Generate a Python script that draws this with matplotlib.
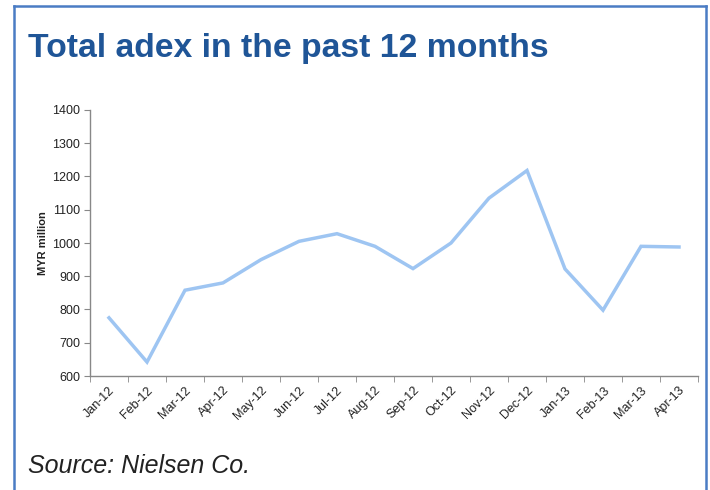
import numpy as np
import matplotlib.pyplot as plt
from matplotlib.lines import Line2D

months = ["Jan-12", "Feb-12", "Mar-12", "Apr-12", "May-12", "Jun-12", "Jul-12", "Aug-12",
          "Sep-12", "Oct-12", "Nov-12", "Dec-12", "Jan-13", "Feb-13", "Mar-13", "Apr-13"]
adex = [775, 642, 858, 880, 950, 1005, 1028, 990, 923, 1000, 1135, 1218, 922, 798, 990, 988]
y_ticks = [600, 700, 800, 900, 1000, 1100, 1200, 1300, 1400]

plt.rcParams['font.family'] = ['Liberation Sans', 'DejaVu Sans']

fig = plt.figure(figsize=(7.1, 4.9), dpi=100)
ax = fig.add_axes([90 / 710, 1 - 376 / 490, 608 / 710, 266 / 490])

x = np.arange(len(months))
ax.plot(x, adex, color="#9EC5F2", linewidth=2.5, solid_joinstyle="miter")

ax.set_xlim(-0.5, len(months) - 0.5)
ax.set_ylim(600, 1400)
ax.set_yticks(y_ticks)
ax.set_yticklabels([str(v) for v in y_ticks], fontsize=9, color="#222222")
ax.set_xticks(x)
ax.set_xticklabels(months, rotation=45, ha="right", rotation_mode="anchor",
                   fontsize=9, color="#222222")
ax.set_xticks(np.arange(-0.5, len(months)), minor=True)
ax.tick_params(axis="x", which="major", length=0, pad=6)
ax.tick_params(axis="x", which="minor", length=4, color="#888888")
ax.tick_params(axis="y", length=4, color="#888888", pad=3)

for side in ["top", "right"]:
    ax.spines[side].set_visible(False)
for side in ["left", "bottom"]:
    ax.spines[side].set_color("#888888")
    ax.spines[side].set_linewidth(1.0)

ax.set_ylabel("MYR million", fontsize=8, fontweight="bold", color="#222222", labelpad=3)

fig.text(28 / 710, 1 - 48 / 490, "Total adex in the past 12 months", fontsize=24.3,
         fontweight="bold", color="#1F5597", va="center", ha="left")
fig.text(28 / 710, 1 - 466 / 490, "Source: Nielsen Co.", fontsize=18, style="italic",
         color="#222222", va="center", ha="left")

# blue frame around the panel
frame = "#4A7CC4"
fig.add_artist(Line2D([14 / 710, 706 / 710], [1 - 6 / 490, 1 - 6 / 490], color=frame, lw=1.8))
fig.add_artist(Line2D([14 / 710, 14 / 710], [0, 1 - 6 / 490], color=frame, lw=1.8))
fig.add_artist(Line2D([706 / 710, 706 / 710], [0, 1 - 6 / 490], color=frame, lw=1.8))

fig.savefig("out.png", dpi=100)
